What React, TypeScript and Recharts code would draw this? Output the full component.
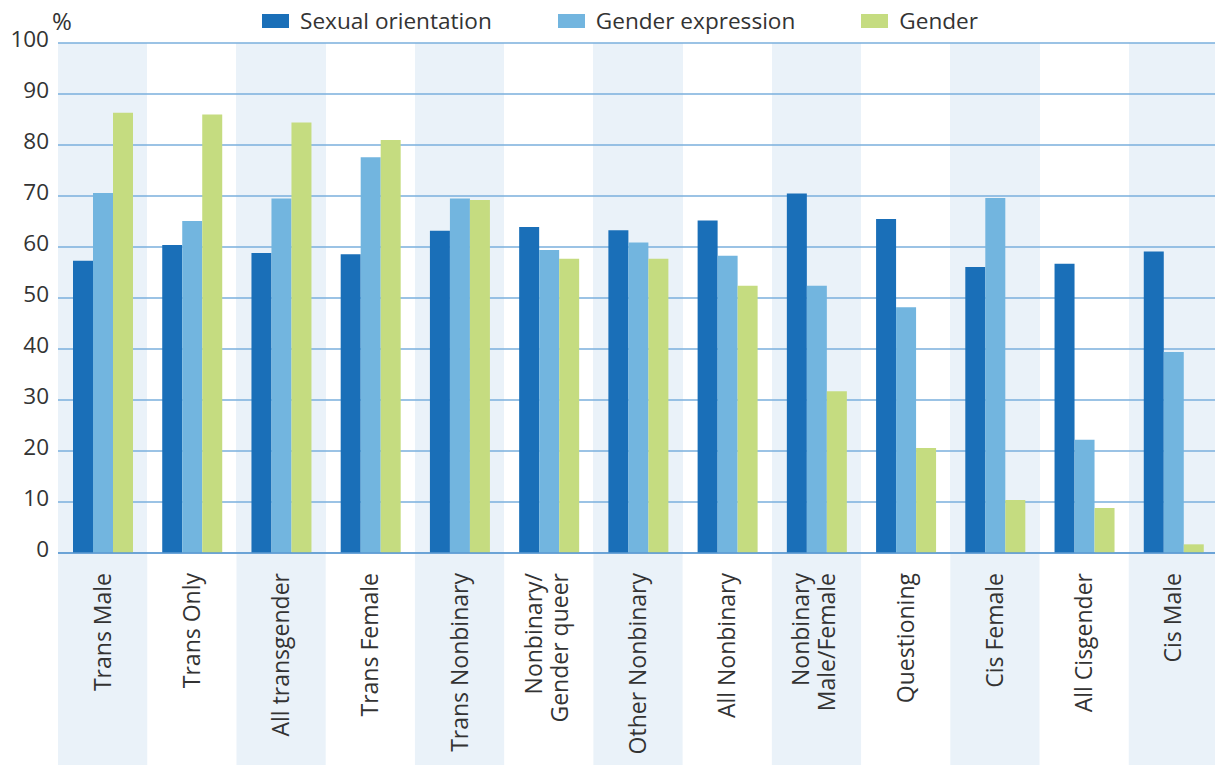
import { BarChart, Bar, XAxis, YAxis, CartesianGrid, Legend } from "recharts";

const categories = [
  "Trans Male",
  "Trans Only",
  "All transgender",
  "Trans Female",
  "Trans Nonbinary",
  "Nonbinary/\nGender queer",
  "Other Nonbinary",
  "All Nonbinary",
  "Nonbinary\nMale/Female",
  "Questioning",
  "Cis Female",
  "All Cisgender",
  "Cis Male",
];
const sexualOrientation = [57.3, 60.4, 58.8, 58.6, 63.2, 63.9, 63.3, 65.2, 70.5, 65.5, 56.1, 56.7, 59.1];
const genderExpression = [70.6, 65.1, 69.5, 77.6, 69.5, 59.4, 60.9, 58.3, 52.4, 48.2, 69.6, 22.2, 39.4];
const gender = [86.3, 86.0, 84.4, 81.0, 69.2, 57.7, 57.7, 52.4, 31.7, 20.6, 10.4, 8.8, 1.7];
const yTicks = [0, 10, 20, 30, 40, 50, 60, 70, 80, 90, 100];

const series = [
  { key: "sexual", name: "Sexual orientation", color: "#1a6fb8" },
  { key: "expression", name: "Gender expression", color: "#72b5df" },
  { key: "gender", name: "Gender", color: "#c5dc80" },
];

const W = 1218;
const H = 765;
const Y_AXIS_W = 58;
const X_AXIS_H = 212;
const MARGIN = { top: 43, right: 0, bottom: 0, left: 0 };
const BAND = (W - Y_AXIS_W - MARGIN.left - MARGIN.right) / categories.length;
const PLOT_BOTTOM = H - MARGIN.bottom - X_AXIS_H;

const FONT = '"Open Sans", "Noto Sans", sans-serif';
const TEXT = "#333333";
const SHADE = "#eaf2f9";
const GRID = "#7aafdc";

const data = categories.map((category, i) => ({
  category,
  sexual: sexualOrientation[i],
  expression: genderExpression[i],
  gender: gender[i],
}));

// band edges for the shaded columns
const bandEdges = categories.map((_, i) => MARGIN.left + Y_AXIS_W + i * BAND);

function CategoryTick(props: any) {
  const { x, payload, index } = props;
  const lines = String(payload.value).split("\n");
  const top = PLOT_BOTTOM + 20;
  return (
    <g>
      {index % 2 === 0 && (
        <rect x={x - BAND / 2} y={PLOT_BOTTOM + 1} width={BAND} height={H - PLOT_BOTTOM} fill={SHADE} />
      )}
      {lines.map((line, k) => {
        const bx = x + (lines.length > 1 ? 6 : 8) + (k - (lines.length - 1) / 2) * 26;
        return (
          <text
            key={k}
            x={bx}
            y={top}
            transform={`rotate(-90 ${bx} ${top})`}
            textAnchor="end"
            fontFamily={FONT}
            fontSize={23}
            fill={TEXT}
          >
            {line}
          </text>
        );
      })}
    </g>
  );
}

function ValueTick(props: any) {
  const { x, y, payload } = props;
  return (
    <g>
      <text x={x} y={y + 4} textAnchor="end" fontFamily={FONT} fontSize={22.5} fill={TEXT}>
        {payload.value}
      </text>
      {payload.value === 100 && (
        <text x={x + 3} y={y - 13} fontFamily={FONT} fontSize={24} fill={TEXT}>
          %
        </text>
      )}
    </g>
  );
}

function LegendRow() {
  return (
    <div style={{ display: "flex", alignItems: "center", paddingLeft: 262, paddingTop: 6, fontFamily: FONT }}>
      {series.map((s) => (
        <div key={s.key} style={{ display: "flex", alignItems: "center", marginRight: 66 }}>
          <span style={{ width: 27, height: 14, background: s.color, marginRight: 11, display: "inline-block" }} />
          <span style={{ fontSize: 22.6, lineHeight: "30px", color: TEXT }}>{s.name}</span>
        </div>
      ))}
    </div>
  );
}

export default function App() {
  return (
    <div
      style={{
        position: "absolute",
        left: 0,
        top: 0,
        width: 1215,
        height: 765,
        overflow: "hidden",
        background: "#ffffff",
      }}
    >
      <BarChart width={W} height={H} data={data} margin={MARGIN} barCategoryGap={15} barGap={0}>
        <CartesianGrid
          horizontal={false}
          vertical={true}
          stroke="transparent"
          verticalPoints={bandEdges}
          verticalFill={[SHADE, "#ffffff"]}
        />
        <CartesianGrid vertical={false} stroke={GRID} strokeWidth={1.3} />
        <XAxis
          dataKey="category"
          interval={0}
          height={X_AXIS_H}
          tickLine={false}
          axisLine={{ stroke: "#5c9ad2", strokeWidth: 1.5 }}
          tick={(p: any) => <CategoryTick {...p} />}
        />
        <YAxis
          width={Y_AXIS_W}
          domain={[0, 100]}
          ticks={yTicks}
          axisLine={false}
          tickLine={false}
          tickSize={0}
          tickMargin={9}
          tick={(p: any) => <ValueTick {...p} />}
        />
        <Legend
          verticalAlign="middle"
          align="center"
          wrapperStyle={{ top: 0, left: 0, width: 1215, height: 43 }}
          content={() => <LegendRow />}
        />
        {series.map((s) => (
          <Bar key={s.key} dataKey={s.key} name={s.name} fill={s.color} isAnimationActive={false} />
        ))}
      </BarChart>
    </div>
  );
}
